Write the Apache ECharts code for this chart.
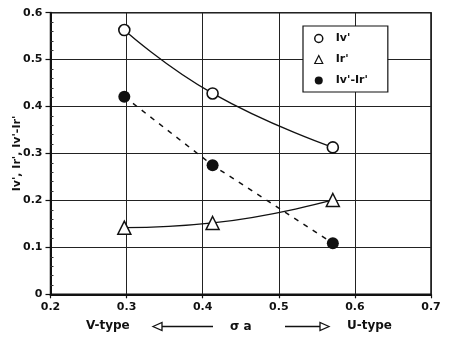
<!DOCTYPE html>
<html>
<head>
<meta charset="utf-8">
<script src="https://cdn.jsdelivr.net/npm/echarts@6/dist/echarts.min.js"></script>
<style>html,body{margin:0;padding:0;background:#fff}#c{width:450px;height:343px}</style>
</head>
<body>
<div id="c"></div>
<script>
const xVals = [0.297, 0.413, 0.571];
const ivVals = [0.563, 0.428, 0.313];
const irVals = [0.142, 0.152, 0.201];
const diffVals = [0.421, 0.275, 0.109];
const seriesNames = ["Iv'", "Ir'", "Iv'-Ir'"];
const yTitle = "Iv', Ir', Iv'-Ir'";
const xTitle = "σ a";
const leftNote = "V-type";
const rightNote = "U-type";

function pairs(xs, ys) { return xs.map((x, i) => [x, ys[i]]); }

const FONT = 'DejaVu Sans';
const FW = 'bold';
const chart = echarts.init(document.getElementById('c'), null, {renderer: 'canvas'});
chart.setOption({
  backgroundColor: '#fff',
  animation: false,
  textStyle: {fontFamily: FONT, color: '#111'},
  grid: {show: true, borderColor: '#111', borderWidth: 1.5, backgroundColor: 'transparent',
         left: 50.5, right: 19, top: 12.7, bottom: 48.7, containLabel: false, outerBoundsMode: 'none'},
  legend: {
    orient: 'vertical', left: 303, top: 26,
    padding: [7, 20, 6, 11],
    borderColor: '#111', borderWidth: 1.2, backgroundColor: '#fff',
    itemWidth: 8, itemHeight: 8, itemGap: 10,
    textStyle: {fontFamily: FONT, fontSize: 11, fontWeight: FW, color: '#111', padding: [0, 0, 0, 8]},
    data: [
      {name: seriesNames[0], icon: 'circle', itemStyle: {color: '#fff', borderColor: '#111', borderWidth: 1.5}},
      {name: seriesNames[1], icon: 'triangle', itemStyle: {color: '#fff', borderColor: '#111', borderWidth: 1.2}},
      {name: seriesNames[2], icon: 'circle', itemStyle: {color: '#111', borderWidth: 0}}
    ]
  },
  xAxis: {
    type: 'value', min: 0.2, max: 0.7, interval: 0.1,
    name: xTitle, nameLocation: 'middle', nameGap: 27, nameMoveOverlap: false,
    nameTextStyle: {fontFamily: FONT, fontSize: 12, fontWeight: FW, color: '#111'},
    axisLine: {show: true, onZero: false, lineStyle: {color: '#111', width: 2}},
    axisTick: {show: true, length: 4, lineStyle: {color: '#111', width: 1.2}},
    axisLabel: {fontFamily: FONT, fontSize: 11, fontWeight: FW, color: '#111', margin: 7, formatter: v => v.toFixed(1)},
    splitLine: {show: true, lineStyle: {color: '#222', width: 1}}
  },
  yAxis: {
    type: 'value', min: 0, max: 0.6, interval: 0.1,
    name: yTitle, nameLocation: 'middle', nameGap: 28, nameRotate: 90, nameMoveOverlap: false,
    nameTextStyle: {fontFamily: FONT, fontSize: 11, fontWeight: FW, color: '#111'},
    axisLine: {show: true, onZero: false, lineStyle: {color: '#111', width: 2}},
    axisTick: {show: true, length: 5, lineStyle: {color: '#111', width: 1.2}},
    minorTick: {show: true, splitNumber: 5, length: -3, lineStyle: {color: '#333', width: 1}},
    axisLabel: {fontFamily: FONT, fontSize: 11, fontWeight: FW, color: '#111', margin: 8, formatter: v => (v === 0 ? '0' : v.toFixed(1))},
    splitLine: {show: true, lineStyle: {color: '#222', width: 1}}
  },
  series: [
    {
      name: seriesNames[0], type: 'line', data: pairs(xVals, ivVals), smooth: 0.5,
      symbol: 'circle', symbolSize: 11,
      itemStyle: {color: '#fff', borderColor: '#111', borderWidth: 1.6},
      lineStyle: {color: '#111', width: 1.3}, z: 3
    },
    {
      name: seriesNames[1], type: 'line', data: pairs(xVals, irVals), smooth: 0.5,
      symbol: 'triangle', symbolSize: 13,
      itemStyle: {color: '#fff', borderColor: '#111', borderWidth: 1.5},
      lineStyle: {color: '#111', width: 1.3}, z: 3
    },
    {
      name: seriesNames[2], type: 'line', data: pairs(xVals, diffVals), smooth: false,
      symbol: 'circle', symbolSize: 12,
      itemStyle: {color: '#111', borderWidth: 0},
      lineStyle: {color: '#111', width: 1.5, type: [5, 6]}, z: 3
    }
  ],
  graphic: [
    {type: 'text', left: 86, top: 320, style: {text: leftNote, font: 'bold 12px "DejaVu Sans"', fill: '#111'}},
    {type: 'text', left: 347, top: 320, style: {text: rightNote, font: 'bold 12px "DejaVu Sans"', fill: '#111'}},
    {type: 'line', shape: {x1: 160, y1: 326.5, x2: 213, y2: 326.5}, style: {stroke: '#111', lineWidth: 1.5}},
    {type: 'polygon', shape: {points: [[153, 326.5], [162, 322.5], [162, 330.5]]}, style: {fill: '#fff', stroke: '#111', lineWidth: 1.3}},
    {type: 'line', shape: {x1: 285, y1: 326.5, x2: 320, y2: 326.5}, style: {stroke: '#111', lineWidth: 1.5}},
    {type: 'polygon', shape: {points: [[329, 326.5], [320, 322.5], [320, 330.5]]}, style: {fill: '#fff', stroke: '#111', lineWidth: 1.3}}
  ]
});
</script>
</body>
</html>
